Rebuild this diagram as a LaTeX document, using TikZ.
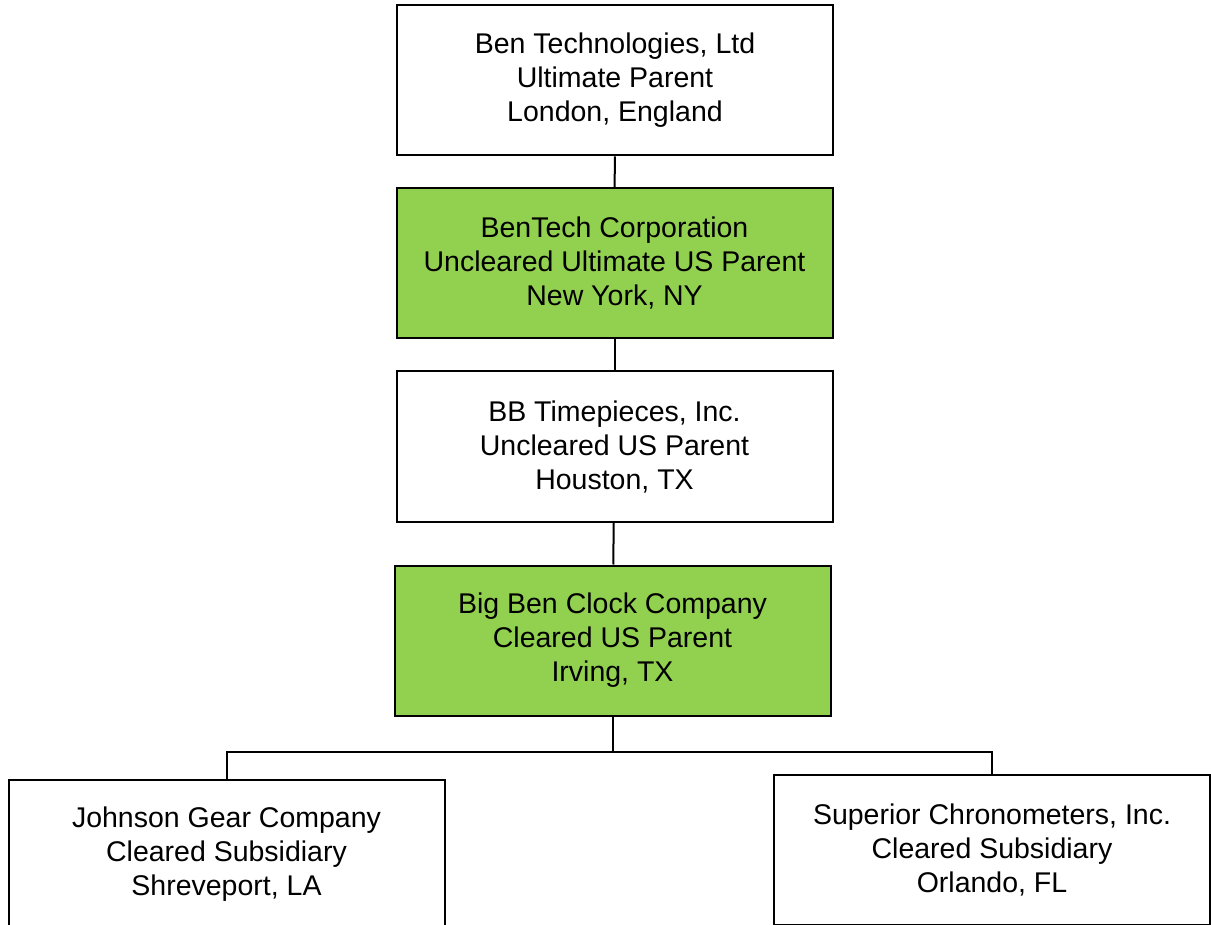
\documentclass[tikz,border=0pt]{standalone}
\usepackage{fontspec}
\setmainfont{Liberation Sans}
\usepackage{xcolor}
\usepackage{tikz}
\usetikzlibrary{positioning}
\definecolor{clearedG}{RGB}{146,208,80}

\tikzset{
  orgbox/.style={draw=black,line width=2pt,fill=white,rectangle,
    minimum width=436pt,minimum height=150pt,align=center,
    font=\fontsize{28.5}{34}\selectfont,inner sep=0pt},
  greenbox/.style={orgbox,fill=clearedG},
  link/.style={line width=2pt}
}

\begin{document}
\begin{tikzpicture}[x=1pt,y=-1pt]
  % Page frame
  \useasboundingbox (0,0) rectangle (1211,925);
  \clip (0,0) rectangle (1211,925);

  % Ownership chain
  \node[orgbox] (ultimate) at (615,80.5)
    {Ben Technologies, Ltd\\Ultimate Parent\\London, England};
  \node[greenbox] (bentech) at (614.5,263)
    {BenTech Corporation\\Uncleared Ultimate US Parent\\New York, NY};
  \node[orgbox] (bbtime) at (614.5,446.5)
    {BB Timepieces, Inc.\\Uncleared US Parent\\Houston, TX};
  \node[greenbox] (bigben) at (612.5,640.5)
    {Big Ben Clock Company\\Cleared US Parent\\Irving, TX};

  % Subsidiaries (cut off at the bottom)
  \node[orgbox] (johnson) at (226.5,854.5)
    {Johnson Gear Company\\Cleared Subsidiary\\Shreveport, LA};
  \node[orgbox] (superior) at (992,849.5)
    {Superior Chronometers, Inc.\\Cleared Subsidiary\\Orlando, FL};

  % Connectors
  \draw[link] (ultimate) -- (bentech);
  \draw[link] (bentech) -- (bbtime);
  \draw[link] (bbtime) -- (bigben);

  \coordinate (bus) at (612.5,752);
  \draw[link] (bigben.south) -- (bus);
  \draw[link] (johnson.north) |- (bus) -| (superior.north);
\end{tikzpicture}
\end{document}
